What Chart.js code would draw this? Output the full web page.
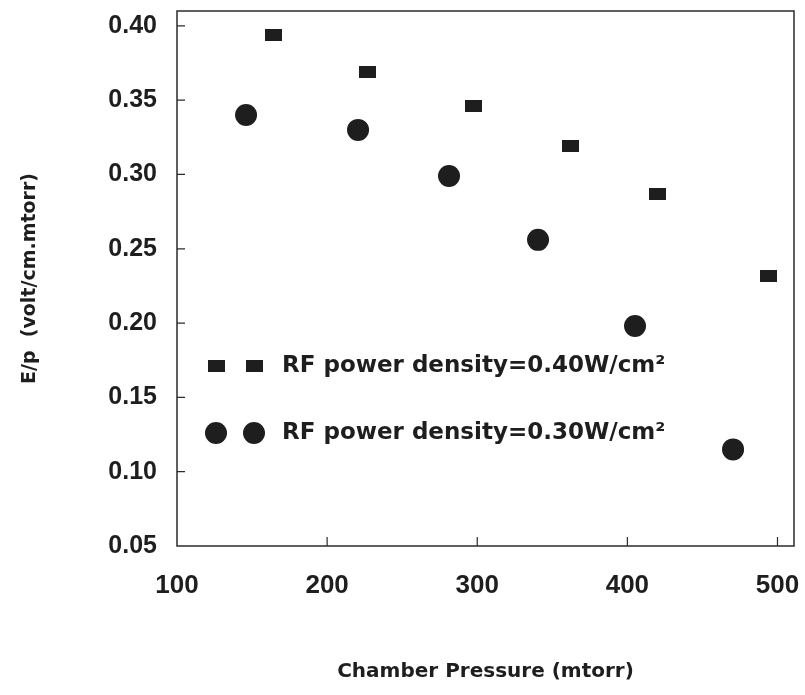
<!DOCTYPE html>
<html>
<head>
<meta charset="utf-8">
<title>E/p vs chamber pressure</title>
<script src="https://cdn.jsdelivr.net/npm/chart.js@4.4.1/dist/chart.umd.min.js"></script>
<style>
	html, body { margin: 0; padding: 0; background: #fff; }
	canvas { display: block; }
</style>
</head>
<body>
<canvas id="chart" width="805" height="695"></canvas>
<script>
// Values
const pressure040 = [164.6, 227.2, 297.8, 361.8, 420.4, 493.7]
const ep040 = [0.394, 0.369, 0.346, 0.319, 0.287, 0.232]
const pressure030 = [146.0, 220.6, 281.2, 340.5, 405.1, 470.4]
const ep030 = [0.340, 0.330, 0.299, 0.256, 0.198, 0.115]

const seriesLabels = ['RF power density=0.40W/cm²', 'RF power density=0.30W/cm²']
const xTicks = [100, 200, 300, 400, 500]
const yTicks = [0.05, 0.10, 0.15, 0.20, 0.25, 0.30, 0.35, 0.40]

const INK = '#1e1e1e'

// квадратный маркер, чуть шире чем выше, как в скане
const squareMark = document.createElement('canvas')
squareMark.width = 17
squareMark.height = 12
{
	const c = squareMark.getContext('2d')
	c.fillStyle = INK
	c.fillRect(0, 0, 17, 12)
}

function drawMarker(ctx, ds, x, y) {
	if (ds.pointStyle instanceof HTMLCanvasElement) {
		const img = ds.pointStyle
		ctx.drawImage(img, x - img.width / 2, y - img.height / 2)
	} else {
		ctx.beginPath()
		ctx.arc(x, y, ds.pointRadius, 0, Math.PI * 2)
		ctx.fillStyle = ds.backgroundColor
		ctx.fill()
	}
}

// Рамка и короткие внутренние засечки
const frameAndTicks = {
	id: 'frameAndTicks',
	afterDraw(chart) {
		const { ctx, chartArea: a, scales } = chart
		ctx.save()
		ctx.strokeStyle = '#2b2b2b'
		ctx.lineWidth = 1.5
		ctx.strokeRect(a.left, a.top, a.right - a.left, a.bottom - a.top)
		ctx.lineWidth = 1.2
		ctx.beginPath()
		xTicks.forEach(v => {
			if (v <= scales.x.min || v >= scales.x.max) return
			const px = scales.x.getPixelForValue(v)
			ctx.moveTo(px, a.bottom)
			ctx.lineTo(px, a.bottom - 9)
		})
		yTicks.forEach(v => {
			if (v <= scales.y.min || v >= scales.y.max) return
			const py = scales.y.getPixelForValue(v)
			ctx.moveTo(a.left, py)
			ctx.lineTo(a.left + 8, py)
		})
		ctx.stroke()
		ctx.restore()
	},
}

// Легенда внутри поля графика: два маркера и подпись
const innerLegend = {
	id: 'innerLegend',
	afterDatasetsDraw(chart) {
		const { ctx, chartArea: a } = chart
		const rowsY = [a.top + 355, a.top + 422]
		ctx.save()
		ctx.font = 'bold 23px "DejaVu Sans", sans-serif'
		ctx.textBaseline = 'middle'
		ctx.fillStyle = INK
		chart.data.datasets.forEach((ds, i) => {
			const y = rowsY[i]
			drawMarker(ctx, ds, a.left + 39, y)
			drawMarker(ctx, ds, a.left + 77, y)
			ctx.fillStyle = INK
			ctx.fillText(ds.label, a.left + 105, y)
		})
		ctx.restore()
	},
}

const tickFont = size => ({ family: '"Liberation Sans", Arial, sans-serif', size, weight: 'bold' })
const titleFont = size => ({ family: '"DejaVu Sans", sans-serif', size, weight: 'bold' })

new Chart(document.getElementById('chart'), {
	type: 'scatter',
	data: {
		datasets: [
			{
				label: seriesLabels[0],
				data: pressure040.map((x, i) => ({ x, y: ep040[i] })),
				pointStyle: squareMark,
				pointRadius: 8,
				backgroundColor: INK,
				borderColor: INK,
			},
			{
				label: seriesLabels[1],
				data: pressure030.map((x, i) => ({ x, y: ep030[i] })),
				pointStyle: 'circle',
				pointRadius: 11,
				borderWidth: 0,
				backgroundColor: INK,
				borderColor: INK,
			},
		],
	},
	options: {
		responsive: false,
		animation: false,
		layout: { padding: { top: 10, right: 11, left: 0, bottom: 0 } },
		plugins: { legend: { display: false }, tooltip: { enabled: false } },
		scales: {
			x: {
				type: 'linear',
				min: 100,
				max: 511,
				afterBuildTicks: s => { s.ticks = xTicks.map(value => ({ value })) },
				afterFit: s => { s.height = 149; s.paddingLeft = 0; s.paddingRight = 0 },
				grid: { display: false, drawTicks: false },
				border: { display: false },
				ticks: { color: INK, padding: 24, font: tickFont(26), maxRotation: 0, autoSkip: false },
				title: {
					display: true,
					text: 'Chamber Pressure (mtorr)',
					color: INK,
					font: titleFont(20),
					padding: { top: 0, bottom: 11 },
				},
			},
			y: {
				type: 'linear',
				min: 0.05,
				max: 0.41,
				afterBuildTicks: s => { s.ticks = yTicks.map(value => ({ value })) },
				afterFit: s => { s.width = 177; s.paddingTop = 0; s.paddingBottom = 0 },
				grid: { display: false, drawTicks: false },
				border: { display: false },
				ticks: { color: INK, padding: 20, font: tickFont(25), callback: v => v.toFixed(2) },
				title: {
					display: true,
					text: 'E/p  (volt/cm.mtorr)',
					color: INK,
					font: titleFont(19),
					padding: { top: 19, bottom: 0 },
				},
			},
		},
	},
	plugins: [frameAndTicks, innerLegend],
})
</script>
</body>
</html>
